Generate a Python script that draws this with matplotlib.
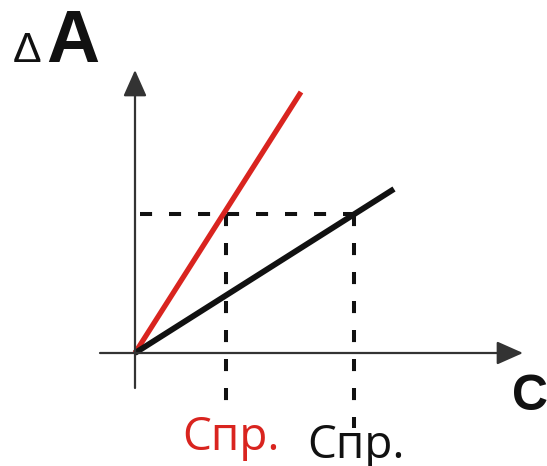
import matplotlib
matplotlib.use("Agg")
import matplotlib.pyplot as plt

# Calibration lines: absorbance change vs. concentration
red_c = [0.0, 1.66]
red_a = [0.0, 2.61]
black_c = [0.0, 2.59]
black_a = [0.0, 1.64]

# Threshold level of ΔA and the corresponding limiting concentrations
level_a = 1.39
c_red = 0.91
c_black = 2.19

RED = "#d9241f"
DARK = "#111111"
AXIS = "#333333"

W, H = 547, 466
fig = plt.figure(figsize=(W / 100, H / 100), dpi=100)
ax = fig.add_axes([0, 0, 1, 1])
ox, oy = 135, 353  # origin position in pixels
ax.set_xlim(-ox / 100, (W - ox) / 100)
ax.set_ylim((oy - H) / 100, oy / 100)
ax.axis("off")

# Axes with arrows
arrow = dict(arrowstyle="-|>,head_length=0.45,head_width=0.2", lw=1.6,
             color=AXIS, mutation_scale=36, shrinkA=0, shrinkB=0)
ax.annotate("", xy=(3.88, 0), xytext=(-0.35, 0), arrowprops=arrow)
ax.annotate("", xy=(0, 2.83), xytext=(0, -0.35), arrowprops=arrow)

# Dashed guides
dash = dict(color=DARK, lw=2.9, dashes=(3, 4.2))
ax.plot([0.05, c_black], [level_a, level_a], **dash)
ax.plot([c_red, c_red], [level_a, -0.63], **dash)
ax.plot([c_black, c_black], [level_a, -0.75], **dash)

# Calibration lines
ax.plot(red_c, red_a, color=RED, lw=3.8, solid_capstyle="butt")
ax.plot(black_c, black_a, color=DARK, lw=4.2, solid_capstyle="butt")

# Labels
ax.text(-1.22, 2.91, "Δ", fontsize=31, family="Liberation Sans",
        color=DARK, ha="left", va="baseline")
ax.text(-0.89, 2.91, "A", fontsize=53, family="Liberation Sans",
        fontweight="bold", color=DARK, ha="left", va="baseline")
ax.text(3.77, -0.57, "C", fontsize=36, family="Liberation Sans",
        fontweight="bold", color=DARK, ha="left", va="baseline")
ax.text(0.47, -0.97, "Спр.", fontsize=33, family="Open Sans",
        color=RED, ha="left", va="baseline")
ax.text(1.72, -1.05, "Спр.", fontsize=33, family="Open Sans",
        color=DARK, ha="left", va="baseline")

fig.savefig("out.png", dpi=100)
